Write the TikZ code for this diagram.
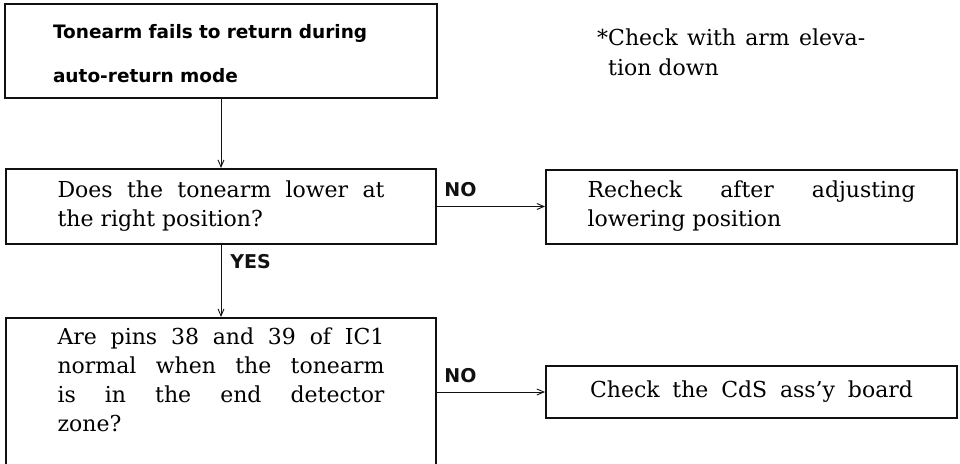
\documentclass[tikz,border=0pt]{standalone}
\usepackage{fontspec}
\setmainfont{DejaVu Serif}
\newfontfamily\labelfont{DejaVu Sans}
\usepackage{tikz}
\usetikzlibrary{arrows.meta,positioning}
\definecolor{inkc}{HTML}{111111}
\tikzset{
  box/.style={draw=inkc,line width=2pt,inner sep=0pt,font=\fontsize{22}{29}\selectfont},
  ar/.style={-{Straight Barb[length=7pt,width=6pt]},line width=0.9pt,inkc},
  lbl/.style={font=\labelfont\bfseries\fontsize{19}{22}\selectfont,inner sep=2pt,text=inkc}
}
\begin{document}
\begin{tikzpicture}[x=1pt,y=-1pt]
\useasboundingbox (0,0) rectangle (960,463);
\clip (0,0) rectangle (960,463);
\node[box,line width=2.8pt,minimum width=432,minimum height=94,text width=336,align=left,
  text depth=39pt,font=\labelfont\bfseries\fontsize{18.5}{44}\selectfont] (start) at (221,51)
  {Tonearm fails to return during\\auto-return mode};
\node[anchor=base west,inner sep=0pt,text width=257,align=justify,
  font=\fontsize{22}{30}\selectfont] (note) at (608,45)
  {\llap{*}Check with arm eleva-\linebreak tion down};
\node[box,minimum width=430,minimum height=75,text width=327,align=justify] (askpos) at (221,206.5)
  {Does the tonearm lower at\linebreak the right position?};
\node[box,minimum width=411,minimum height=74,text width=328,align=justify] (readjust) at (751.5,206.5)
  {Recheck after adjusting\linebreak lowering position};
\node[box,anchor=north,minimum width=430,inner ysep=9.3pt,text width=327,align=justify,
  text depth=150pt] (askpins) at (221,317)
  {Are pins 38 and 39 of IC1\linebreak normal when the tonearm\linebreak is in the end detector\linebreak zone?};
\node[box,minimum width=411,minimum height=52] (cds) at (751.5,392)
  {\hbox to 323pt{Check\hfil\ the\hfil\ CdS\hfil\ ass'y\hfil\ board}};
\draw[ar] (start.south) -- (askpos.north);
\draw[ar] (askpos.east) -- node[lbl,anchor=south west,pos=0,xshift=5pt,yshift=7pt]{NO} (readjust.west);
\draw[ar] (askpos.south) -- node[lbl,anchor=north west,pos=0,xshift=7pt,yshift=-7pt]{YES} (askpins.north);
\draw[ar] (askpins.east |- cds.west) -- node[lbl,anchor=south west,pos=0,xshift=5pt,yshift=7pt]{NO} (cds.west);
\end{tikzpicture}
\end{document}
